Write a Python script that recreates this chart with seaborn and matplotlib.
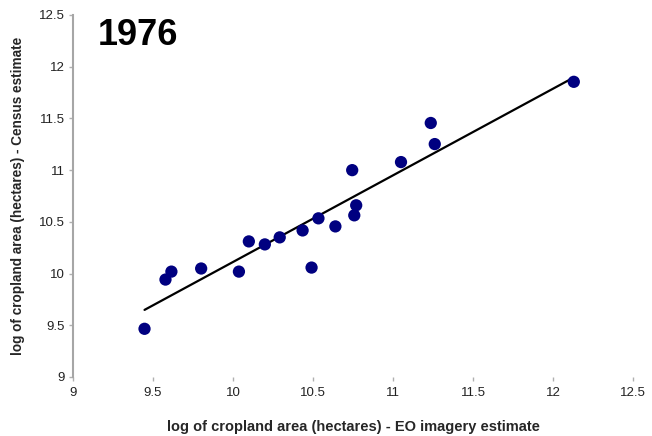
import numpy as np
import pandas as pd
import matplotlib
matplotlib.use("Agg")
import matplotlib.pyplot as plt
import seaborn as sns

# Log cropland area per district, 1976
eo_estimate = [9.447, 9.578, 9.615, 9.801, 10.037, 10.099, 10.199, 10.292, 10.435, 10.491,
               10.534, 10.640, 10.745, 10.758, 10.770, 11.050, 11.236, 11.261, 12.130]
census_estimate = [9.466, 9.942, 10.019, 10.049, 10.019, 10.311, 10.282, 10.350, 10.417, 10.058,
                   10.534, 10.456, 11.000, 10.563, 10.660, 11.078, 11.456, 11.252, 11.854]
ticks = [9, 9.5, 10, 10.5, 11, 11.5, 12, 12.5]
tick_labels = ["9", "9.5", "10", "10.5", "11", "11.5", "12", "12.5"]

df = pd.DataFrame({"eo": eo_estimate, "census": census_estimate})

sns.set_theme(style="white")
plt.rcParams["font.family"] = ["Liberation Sans", "DejaVu Sans"]

fig = plt.figure(figsize=(6.52, 4.36), dpi=100)
ax = fig.add_axes([73 / 652, 1 - 377 / 436, 560 / 652, 362 / 436])

sns.regplot(data=df, x="eo", y="census", ax=ax, ci=None,
            scatter_kws=dict(s=78, color="#000080", edgecolor="none", alpha=1, zorder=3),
            line_kws=dict(color="black", lw=1.6, zorder=2))

ax.set_xlim(9, 12.5)
ax.set_ylim(9, 12.5)
ax.set_xticks(ticks)
ax.set_xticklabels(tick_labels)
ax.set_yticks(ticks)
ax.set_yticklabels(tick_labels)

for side in ["top", "right", "bottom"]:
    ax.spines[side].set_visible(False)
ax.spines["left"].set_color("#a6a6a6")
ax.spines["left"].set_linewidth(1.5)

ax.tick_params(axis="both", which="major", direction="out", length=3, width=1,
               color="#b0b0b0", labelsize=9.5, labelcolor="#222222", pad=3)
ax.tick_params(axis="x", bottom=True, pad=4)
ax.tick_params(axis="y", left=True)

ax.set_xlabel("log of cropland area (hectares) - EO imagery estimate",
              fontsize=10.5, fontweight="bold", labelpad=15)
ax.set_ylabel("log of cropland area (hectares) - Census estimate",
              fontsize=9.8, fontweight="bold", labelpad=10)

ax.text(0.045, 0.993, "1976", transform=ax.transAxes, fontsize=26, fontweight="bold",
        ha="left", va="top", color="black")

fig.savefig("out.png", dpi=100)
